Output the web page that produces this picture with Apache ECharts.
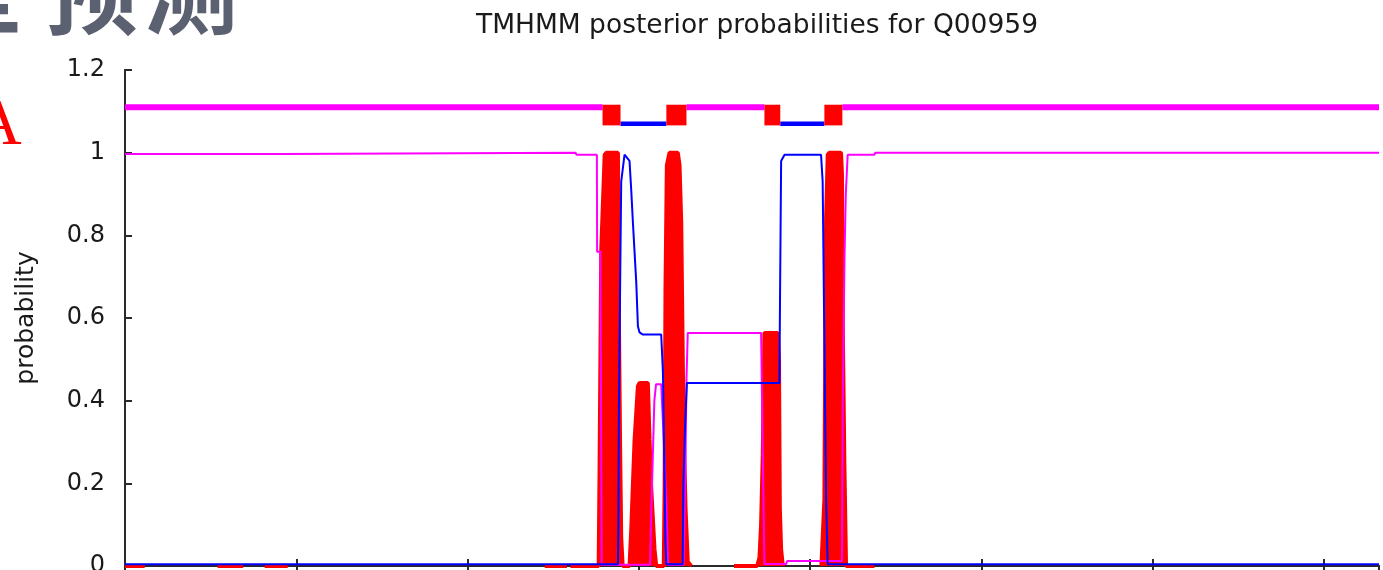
<!DOCTYPE html>
<html><head><meta charset="utf-8">
<script src="https://cdn.jsdelivr.net/npm/echarts/dist/echarts.min.js"></script>
<style>html,body{margin:0;padding:0;background:#fff;}#c{width:1383px;height:570px;}</style>
</head><body><div id="c"></div>
<script>
// ---- data (residue, probability) ----
const seqLength = 1464;
const title = 'TMHMM posterior probabilities for Q00959';
const yTickLabels = ['0', '0.2', '0.4', '0.6', '0.8', '1', '1.2'];

// transmembrane probability (red); null = gap
const tmProbability = [
  [0,0],[23,0], null,
  [108,0],[138,0], null,
  [163,0],[190,0], null,
  [490,0],[516,0], null,
  [520,0],[553,0],[554,0.225],[556,0.765],[560,0.995],[562,1.0],[575.5,1.0],[576.5,0.62],[578,0.29],[579.3,0.07],[581,0],
  [589,0],[591,0.087],[594.9,0.305],[598.8,0.435],[600.7,0.443],[610.4,0.443],[612.4,0.305],[614.3,0.19],[618.2,0.04],[620.2,0],
  [629,0],[630,0.19],[631,0.67],[632.6,0.97],[635.7,1.0],[645.4,1.0],[647.4,0.97],[649.4,0.83],[652,0.35],[654.4,0.14],[657,0.01],[661,0], null,
  [711,0],[738,0],[740.7,0.02],[742.6,0.1],[744.6,0.27],[746.5,0.564],[762,0.564],[763.5,0.5],[764.5,0.14],[766,0.04],[768,0], null,
  [813,0],[815,0],[816.5,0.16],[818.5,0.84],[820.4,0.995],[822.3,1.0],[835.9,1.0],[837,0.95],[837.9,0.595],[839.8,0.255],[841.8,0],[875,0]
];

// inside probability (blue)
const insideProbability = [
  [0,0.004],[575.5,0.004],[576,0.09],[576.6,0.38],[578.2,0.71],[579.3,0.93],[583.2,0.995],[585.2,0.995],
  [589,0.98],[591,0.91],[593,0.83],[596.9,0.685],[598.8,0.58],[600.7,0.565],[604.6,0.56],[626,0.56],
  [628,0.47],[630,0.2],[631,0.06],[632,0.004],[651,0.004],[652,0.2],[654,0.35],[656,0.443],[764,0.443],
  [764.7,0.64],[766,0.98],[770,0.995],[812.6,0.995],[814.5,0.93],[818.5,0.16],[820.4,0.004],[1464,0.004]
];

// outside probability (magenta)
const outsideProbability = [
  [0,0.997],[184,0.997],[185,1.0],[526,1.0],[527,0.995],[550.9,0.995],[551.2,0.76],[555,0.76],[556.5,0.003],
  [613,0.003],[614,0.1],[616,0.25],[618,0.4],[620,0.44],[626,0.44],[628,0.35],[630,0.25],[632,0.15],[634,0.003],
  [652,0.003],[654,0.2],[655.5,0.45],[657,0.564],[742.6,0.564],[744.6,0.27],[746.5,0.005],[772,0.005],[773,0.012],
  [837,0.012],[838,0.4],[840,0.75],[841.5,0.9],[843.7,0.995],[875,0.995],[876,1.0],[1464,1.0]
];

// predicted topology (top bars)
const outsideSegments = [[0,557.5],[655.5,746.5],[837.5,1464]];
const insideSegments = [[578.5,632],[765,816.5]];
const tmSegments = [[557.5,578.5],[632,655.5],[746.5,765],[816.5,837.5]];
const outsideLevel = 1.11, insideLevel = 1.07, tmTop = 1.116, tmBottom = 1.066;

// ---- build ----
const gap = [null, null];
const toLine = arr => arr.map(p => p === null ? gap : p);
const segLine = (segs, lvl) => segs.flatMap(([a,b]) => [[a,lvl],[b,lvl],gap]);

const font = '"DejaVu Sans", sans-serif';
const axisCol = '#2a2a2a';
const cjkFont = 'bold 94px "Noto Sans CJK SC"';
const cjkCol = '#5b6171';

const chart = echarts.init(document.getElementById('c'), null, {renderer:'canvas'});
chart.setOption({
  animation: false,
  backgroundColor: '#fff',
  title: {
    text: title, left: 752, top: 8, textAlign: 'center',
    textStyle: {fontFamily: font, fontSize: 26.5, fontWeight: 'normal', color: '#1a1a1a'}
  },
  graphic: [
    {type:'text', x:-72, y:38, style:{text:'型', font:cjkFont, fill:cjkCol, verticalAlign:'bottom'}},
    {type:'text', x:44, y:38, style:{text:'预', font:cjkFont, fill:cjkCol, verticalAlign:'bottom'}},
    {type:'text', x:144, y:38, style:{text:'测', font:cjkFont, fill:cjkCol, verticalAlign:'bottom'}},
    {type:'text', x:-26, y:160, style:{text:'A', font:'66px "Liberation Serif"', fill:'#ff0000', verticalAlign:'bottom'}}
  ],
  grid: {left:125, right:4, top:70, bottom:4, containLabel:false, outerBoundsMode:'none'},
  xAxis: [
    {type:'value', min:0, max:seqLength, interval:200, position:'bottom',
     axisLine:{show:true, onZero:false, lineStyle:{color:axisCol, width:2}},
     axisTick:{show:true, inside:true, length:7, lineStyle:{color:axisCol, width:2}},
     axisLabel:{show:true, fontFamily:font, fontSize:24, color:'#1a1a1a', margin:18},
     splitLine:{show:false}},
    {type:'value', min:0, max:seqLength, interval:200, position:'top',
     axisLine:{show:true, lineStyle:{color:axisCol, width:2}},
     axisTick:{show:true, inside:true, length:7, lineStyle:{color:axisCol, width:2}},
     axisLabel:{show:false}, splitLine:{show:false}}
  ],
  yAxis: [
    {type:'value', min:0, max:1.2, interval:0.2, position:'left',
     name:'probability', nameLocation:'middle', nameGap:86, nameRotate:90,
     nameTextStyle:{fontFamily:font, fontSize:25, color:'#1a1a1a'},
     axisLine:{show:true, onZero:false, lineStyle:{color:axisCol, width:2}},
     axisTick:{show:true, inside:true, length:7, lineStyle:{color:axisCol, width:2}},
     axisLabel:{fontFamily:font, fontSize:24, color:'#1a1a1a', margin:20,
       formatter: (v) => yTickLabels[Math.round(v/0.2)]},
     splitLine:{show:false}},
    {type:'value', min:0, max:1.2, interval:0.2, position:'right',
     axisLine:{show:true, lineStyle:{color:axisCol, width:2}},
     axisTick:{show:false}, axisLabel:{show:false}, splitLine:{show:false}}
  ],
  series: [
    {type:'line', name:'transmembrane', data: toLine(tmProbability), showSymbol:false, connectNulls:false,
     lineStyle:{color:'#ff0000', width:4}, areaStyle:{color:'#ff0000', opacity:1, origin:'start'}, z:2},
    {type:'line', name:'outside', data: outsideProbability, showSymbol:false,
     lineStyle:{color:'#ff00ff', width:2}, z:3},
    {type:'line', name:'inside', data: insideProbability, showSymbol:false,
     lineStyle:{color:'#0000ff', width:2}, z:4},
    {type:'line', name:'outside-bar', data: segLine(outsideSegments, outsideLevel), showSymbol:false, connectNulls:false,
     lineStyle:{color:'#ff00ff', width:6, cap:'butt'}, z:5},
    {type:'line', name:'inside-bar', data: segLine(insideSegments, insideLevel), showSymbol:false, connectNulls:false,
     lineStyle:{color:'#0000ff', width:4.5, cap:'butt'}, z:5},
    {type:'custom', name:'tm-bar', data: tmSegments.map(([a,b]) => [a,b,tmTop,tmBottom]),
     encode:{x:[0,1], y:[2,3]}, z:6,
     renderItem: (params, api) => {
       const s = api.coord([api.value(0), api.value(2)]);
       const e = api.coord([api.value(1), api.value(3)]);
       return {type:'rect', shape:{x:s[0], y:s[1], width:e[0]-s[0], height:e[1]-s[1]}, style:{fill:'#ff0000'}};
     }}
  ]
});
</script></body></html>
